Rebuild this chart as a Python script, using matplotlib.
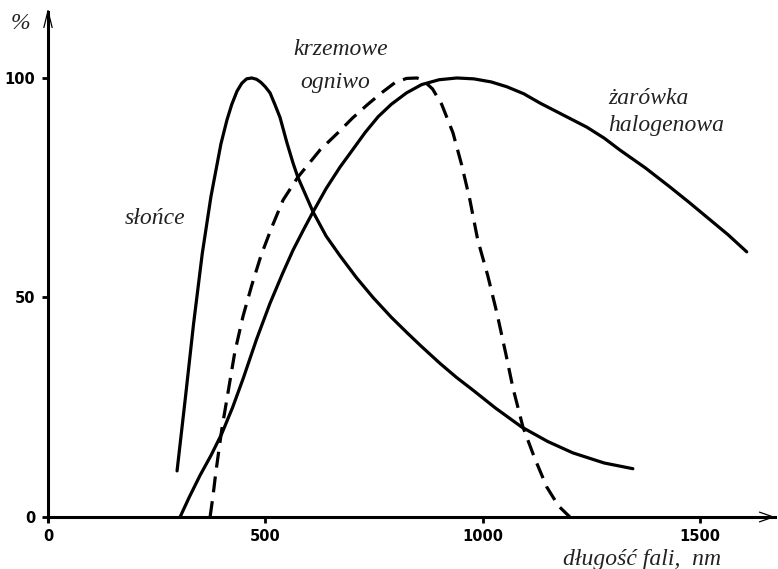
import matplotlib.pyplot as plt

# słońce (solid, narrow peak)
sun_x = [297, 316, 335, 355, 375, 398, 412, 423, 435, 446, 457, 469, 480, 490, 500, 511, 522, 534,
         550, 564, 575, 610, 640, 672, 710, 748, 790, 826, 860, 902, 940, 978, 1030, 1090, 1150,
         1208, 1280, 1346]
sun_y = [10.5, 27, 44, 60, 73, 85, 90.5, 94, 97, 98.8, 99.8, 100, 99.7, 99, 98, 96.6, 94, 91,
         85.2, 80.6, 77.4, 69.5, 64, 59.5, 54.5, 50, 45.5, 42, 38.8, 35, 31.8, 28.9, 24.8, 20.5, 17.2,
         14.6, 12.3, 11]

# krzemowe ogniwo (dashed)
si_x = [373, 380, 386, 400, 414, 430, 449, 469, 490, 515, 541, 575, 626, 667, 700, 736, 770, 798,
        825, 849, 863, 885, 906, 932, 952, 971, 989, 1012, 1033, 1054, 1070, 1093, 1120, 1148,
        1175, 1201]
si_y = [0, 5, 10, 20, 28.2, 37.6, 45.8, 52.8, 59.5, 66, 72.2, 77.4, 83.6, 87.5, 90.8, 94, 96.8, 98.9,
        99.9, 100, 99.5, 97.5, 94, 87.5, 80.2, 72.2, 63.1, 55, 46.5, 37, 29.4, 20.5, 13.4, 6.8,
        2.5, 0]

# żarówka halogenowa (solid, broad)
hal_x = [304, 325, 350, 375, 400, 425, 449, 480, 511, 540, 564, 590, 610, 640, 672, 700, 730, 760,
         790, 825, 860, 900, 941, 980, 1020, 1056, 1095, 1132, 1185, 1240, 1280, 1316, 1375, 1431,
         1475, 1520, 1565, 1608]
hal_y = [0, 4.5, 9.5, 14, 19, 25, 31.5, 40.5, 48.7, 55.5, 60.8, 65.8, 69.5, 74.8, 79.7, 83.5, 87.6,
         91.2, 94, 96.6, 98.5, 99.6, 100, 99.8, 99.1, 98, 96.4, 94.3, 91.6, 88.8, 86.3, 83.6, 79.5,
         75.2, 71.7, 68, 64.3, 60.4]

xticks = [0, 500, 1000, 1500]
yticks = [0, 50, 100]

fig = plt.figure(figsize=(7.78, 5.69), dpi=100)
ax = fig.add_axes([0.0617, 0.0914, 0.9383, 0.895])
ax.set_xlim(0, 1680)
ax.set_ylim(0, 116)

lw = 2.3
ax.plot(sun_x, sun_y, color='black', lw=lw, solid_capstyle='round', solid_joinstyle='round')
ax.plot(hal_x, hal_y, color='black', lw=lw, solid_capstyle='round', solid_joinstyle='round')
ax.plot(si_x, si_y, color='black', lw=lw, linestyle=(0, (5, 2.8)))

# axes as arrows
for s in ['top', 'right']:
    ax.spines[s].set_visible(False)
ax.spines['left'].set_linewidth(2.2)
ax.spines['bottom'].set_linewidth(2.2)
ax.spines['left'].set_bounds(-1, 115)
ax.spines['bottom'].set_bounds(0, 1672)
ax.annotate('', xy=(1680, 0), xytext=(1600, 0), annotation_clip=False,
            arrowprops=dict(arrowstyle='->,head_length=1.0,head_width=0.35', lw=0.9, color='black'))
ax.annotate('', xy=(0, 116.5), xytext=(0, 105), annotation_clip=False,
            arrowprops=dict(arrowstyle='->,head_length=1.2,head_width=0.3', lw=0.9, color='black'))

ax.set_xticks(xticks)
ax.set_yticks(yticks)
ax.tick_params(direction='out', length=4, width=2, labelsize=10.5, pad=5)
for lab in ax.get_xticklabels() + ax.get_yticklabels():
    lab.set_fontweight('heavy')

serif = dict(family='Liberation Serif', style='italic', fontsize=17, color='#222222')
ax.text(-64, 112.5, '%', ha='center', va='center', clip_on=False, **serif)
ax.text(246, 68, 'słońce', ha='center', va='center', **serif)
ax.text(674, 106.6, 'krzemowe', ha='center', va='center', **serif)
ax.text(662, 99.0, 'ogniwo', ha='center', va='center', **serif)
ax.text(1290, 95.4, 'żarówka', ha='left', va='center', **serif)
ax.text(1290, 89.2, 'halogenowa', ha='left', va='center', **serif)
ax.text(1367, -9.6, 'długość fali,  nm', ha='center', va='center', clip_on=False, **serif)

plt.savefig('out.png', dpi=100)
